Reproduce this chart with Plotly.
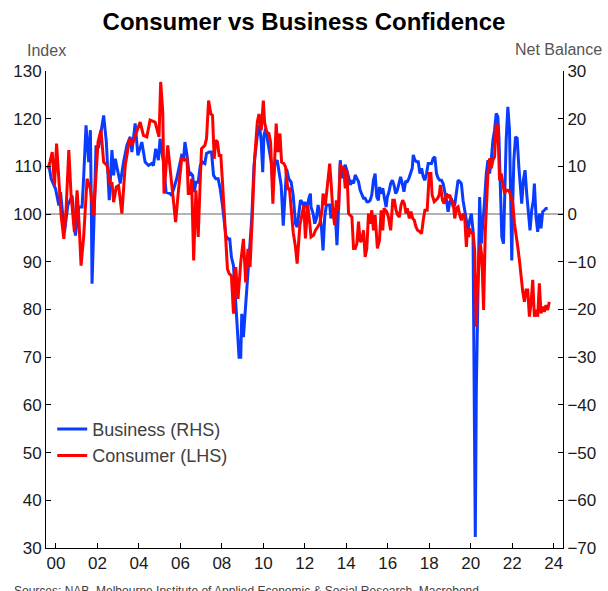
import plotly.graph_objects as go

# ---------------- data ----------------
# Business confidence, NAB net balance (RHS)
biz_x = [1999.66, 1999.77, 1999.98, 2000.14, 2000.22, 2000.33, 2000.41, 2000.57, 2000.78, 2000.86,
         2000.94, 2001.10, 2001.26, 2001.34, 2001.45, 2001.58, 2001.66, 2001.71, 2001.74, 2001.85,
         2001.93, 2002.06, 2002.30, 2002.43, 2002.57, 2002.70, 2002.78, 2002.86, 2003.10, 2003.26,
         2003.42, 2003.58, 2003.66, 2003.82, 2003.95, 2004.14, 2004.30, 2004.46, 2004.62, 2004.70,
         2004.81, 2004.94, 2005.02, 2005.18, 2005.31, 2005.50, 2005.58, 2005.82, 2006.06, 2006.16,
         2006.22, 2006.32, 2006.43, 2006.51, 2006.59, 2006.67, 2006.75, 2006.86, 2006.96, 2007.07,
         2007.18, 2007.26, 2007.39, 2007.50, 2007.60, 2007.71, 2007.82, 2007.92, 2008.03, 2008.19,
         2008.30, 2008.38, 2008.46, 2008.56, 2008.64, 2008.75, 2008.83, 2008.91, 2008.96, 2009.04,
         2009.12, 2009.20, 2009.26, 2009.36, 2009.44, 2009.55, 2009.63, 2009.71, 2009.82, 2009.90,
         2009.97, 2010.03, 2010.11, 2010.19, 2010.30, 2010.38, 2010.46, 2010.56, 2010.67, 2010.77,
         2010.86, 2010.96, 2011.04, 2011.12, 2011.23, 2011.34, 2011.44, 2011.55, 2011.63, 2011.71,
         2011.79, 2011.87, 2011.95, 2012.03, 2012.11, 2012.19, 2012.27, 2012.30, 2012.40, 2012.48,
         2012.56, 2012.64, 2012.72, 2012.80, 2012.88, 2012.96, 2013.04, 2013.10, 2013.20, 2013.26,
         2013.36, 2013.47, 2013.55, 2013.61, 2013.68, 2013.71, 2013.79, 2013.87, 2013.95, 2014.03,
         2014.11, 2014.19, 2014.27, 2014.35, 2014.43, 2014.51, 2014.59, 2014.67, 2014.75, 2014.83,
         2014.91, 2014.99, 2015.07, 2015.15, 2015.23, 2015.31, 2015.39, 2015.47, 2015.55, 2015.60,
         2015.66, 2015.76, 2015.84, 2015.92, 2015.98, 2016.06, 2016.14, 2016.22, 2016.30, 2016.38,
         2016.46, 2016.54, 2016.62, 2016.70, 2016.78, 2016.86, 2016.94, 2017.02, 2017.10, 2017.18,
         2017.23, 2017.31, 2017.39, 2017.47, 2017.55, 2017.63, 2017.71, 2017.79, 2017.87, 2017.95,
         2018.03, 2018.11, 2018.19, 2018.27, 2018.35, 2018.43, 2018.51, 2018.59, 2018.67, 2018.75,
         2018.83, 2018.91, 2018.99, 2019.07, 2019.15, 2019.23, 2019.31, 2019.39, 2019.47, 2019.55,
         2019.63, 2019.71, 2019.79, 2019.87, 2019.95, 2020.03, 2020.11, 2020.22, 2020.27, 2020.35,
         2020.43, 2020.51, 2020.59, 2020.67, 2020.75, 2020.83, 2020.91, 2020.99, 2021.07, 2021.15,
         2021.23, 2021.31, 2021.36, 2021.42, 2021.50, 2021.58, 2021.65, 2021.71, 2021.79, 2021.87,
         2021.92, 2021.98, 2022.03, 2022.08, 2022.16, 2022.24, 2022.32, 2022.40, 2022.46, 2022.54,
         2022.62, 2022.70, 2022.78, 2022.86, 2022.94, 2023.02, 2023.07, 2023.15, 2023.23, 2023.31,
         2023.39, 2023.47, 2023.55, 2023.63, 2023.71]
biz_v = [10.2, 7.4, 5.3, 1.8, 4.6, -1.0, -3.8, 1.8, 3.9, -1.0,
         -4.5, 1.5, 1.5, 8.1, 18.6, 10.9, 17.6, -0.3, -14.6, 1.1,
         14.1, 14.1, 20.7, 15.1, 2.9, 13.4, 8.1, 11.6, 6.4, 10.9,
         14.4, 16.2, 13.0, 19.0, 12.3, 15.1, 10.9, 10.2, 10.6, 10.2,
         13.7, 11.3, 15.8, 10.9, 4.6, 4.3, 3.9, 7.4, 12.3, 12.0,
         15.1, 12.3, 8.1, 8.5, 8.1, 4.6, 6.7, 6.7, 10.2, 10.9,
         10.6, 12.7, 13.0, 13.0, 8.1, 7.4, 7.4, 5.3, 1.8, -4.5,
         -5.2, -5.2, -9.0, -10.8, -16.4, -24.1, -30.0, -30.0, -20.9, -25.8,
         -20.9, -15.0, -11.5, -7.3, -1.0, 10.2, 14.1, 16.5, 18.6, 15.1,
         8.8, 16.5, 17.9, 15.8, 13.7, 10.9, 6.4, 10.6, 11.3, 8.1,
         6.0, -2.4, 3.9, 9.5, 7.4, 6.7, 3.9, -2.0, -2.7, -0.3,
         2.9, 2.5, 1.8, 2.5, 1.1, 3.2, 4.3, 1.5, 0.1, -2.0,
         -0.9, 1.9, 0.1, -2.7, -7.6, -0.6, 1.9, 1.9, 1.9, -0.9,
         1.2, 0.1, -6.5, -0.6, 5.7, 11.3, 7.5, 9.6, 10.3, 9.2,
         7.8, 6.1, 7.1, 6.4, 8.2, 7.5, 6.8, 5.0, 4.3, 3.3,
         3.3, 2.6, 2.6, 2.9, 4.0, 7.1, 8.5, 3.6, 2.9, 5.7,
         4.3, 5.4, 3.3, 1.5, 3.6, 4.7, 6.4, 7.1, 6.1, 4.3,
         5.0, 6.8, 7.8, 6.4, 4.7, 6.8, 6.8, 7.5, 8.5, 9.6,
         12.4, 11.3, 11.0, 11.0, 8.5, 9.6, 7.8, 7.1, 8.5, 10.6,
         10.6, 10.6, 11.7, 12.0, 8.5, 7.5, 7.1, 7.1, 6.4, 4.7,
         2.9, 0.5, 2.6, 3.3, 1.5, 1.9, 4.3, 7.1, 6.8, 6.4,
         2.9, 0.8, -0.6, -3.4, -1.3, 0.1, -3.4, -67.7, -36.9, -15.9,
         3.6, -6.2, -2.0, 2.9, 8.5, 11.3, 8.5, 11.3, 15.5, 17.6,
         21.1, 20.4, 16.2, 7.8, -4.8, -6.2, 5.0, 15.5, 22.5, 17.6,
         5.0, -9.7, 2.9, 11.3, 16.2, 15.9, 9.9, 5.7, 2.2, 7.1,
         9.2, 4.3, 0.8, -3.4, 0.8, 2.9, 6.4, -0.6, -3.7, 0.1,
         -3.0, 0.5, 0.8, 1.2, 1.2]

# Consumer sentiment, Westpac-Melbourne Institute index (LHS)
con_x = [1999.61, 1999.71, 1999.82, 1999.93, 2000.03, 2000.14, 2000.25, 2000.38, 2000.49, 2000.62,
         2000.73, 2000.89, 2001.02, 2001.12, 2001.21, 2001.34, 2001.50, 2001.66, 2001.82, 2001.93,
         2002.03, 2002.17, 2002.30, 2002.46, 2002.62, 2002.70, 2002.78, 2002.91, 2003.02, 2003.18,
         2003.34, 2003.42, 2003.55, 2003.66, 2003.82, 2004.06, 2004.22, 2004.38, 2004.54, 2004.78,
         2004.97, 2005.05, 2005.15, 2005.21, 2005.39, 2005.53, 2005.66, 2005.77, 2005.90, 2006.06,
         2006.19, 2006.32, 2006.38, 2006.48, 2006.54, 2006.64, 2006.75, 2006.86, 2006.96, 2007.02,
         2007.18, 2007.26, 2007.36, 2007.47, 2007.55, 2007.63, 2007.71, 2007.79, 2007.87, 2007.95,
         2008.03, 2008.11, 2008.19, 2008.27, 2008.35, 2008.46, 2008.56, 2008.67, 2008.78, 2008.91,
         2009.04, 2009.15, 2009.26, 2009.36, 2009.47, 2009.58, 2009.71, 2009.79, 2009.90, 2010.00,
         2010.06, 2010.16, 2010.27, 2010.35, 2010.46, 2010.56, 2010.62, 2010.70, 2010.80, 2010.88,
         2010.99, 2011.07, 2011.18, 2011.26, 2011.34, 2011.44, 2011.55, 2011.63, 2011.76, 2011.87,
         2011.95, 2012.03, 2012.14, 2012.24, 2012.30, 2012.43, 2012.51, 2012.62, 2012.72, 2012.83,
         2012.88, 2012.99, 2013.10, 2013.20, 2013.28, 2013.36, 2013.44, 2013.52, 2013.63, 2013.71,
         2013.79, 2013.87, 2013.95, 2014.03, 2014.11, 2014.19, 2014.27, 2014.35, 2014.43, 2014.51,
         2014.59, 2014.67, 2014.75, 2014.83, 2014.91, 2014.99, 2015.07, 2015.15, 2015.23, 2015.31,
         2015.39, 2015.50, 2015.60, 2015.68, 2015.76, 2015.82, 2015.95, 2016.03, 2016.14, 2016.24,
         2016.32, 2016.40, 2016.48, 2016.56, 2016.64, 2016.72, 2016.80, 2016.88, 2016.94, 2017.04,
         2017.12, 2017.20, 2017.28, 2017.36, 2017.44, 2017.55, 2017.63, 2017.71, 2017.79, 2017.90,
         2018.00, 2018.08, 2018.14, 2018.24, 2018.32, 2018.40, 2018.48, 2018.54, 2018.64, 2018.72,
         2018.83, 2018.91, 2018.99, 2019.07, 2019.15, 2019.23, 2019.31, 2019.39, 2019.47, 2019.55,
         2019.63, 2019.71, 2019.79, 2019.84, 2019.90, 2019.95, 2020.03, 2020.11, 2020.19, 2020.27,
         2020.32, 2020.40, 2020.46, 2020.54, 2020.62, 2020.70, 2020.77, 2020.83, 2020.91, 2020.99,
         2021.07, 2021.15, 2021.23, 2021.31, 2021.39, 2021.47, 2021.55, 2021.63, 2021.71, 2021.79,
         2021.87, 2021.95, 2022.03, 2022.11, 2022.19, 2022.27, 2022.35, 2022.43, 2022.51, 2022.59,
         2022.67, 2022.75, 2022.83, 2022.91, 2022.99, 2023.07, 2023.15, 2023.23, 2023.31, 2023.39,
         2023.47, 2023.55, 2023.63, 2023.71, 2023.79]
con_v = [109.5, 110.9, 113.0, 106.0, 114.8, 106.0, 99.7, 94.8, 101.1, 113.4,
         103.9, 96.2, 105.0, 97.6, 89.2, 95.5, 107.4, 105.3, 99.7, 108.1,
         115.1, 117.6, 110.9, 110.2, 106.0, 106.7, 102.5, 105.7, 106.0, 100.1,
         110.2, 112.3, 115.8, 114.4, 116.2, 119.3, 116.5, 116.2, 119.7, 119.3,
         116.2, 127.7, 121.4, 104.3, 114.4, 108.1, 102.5, 98.3, 104.6, 111.6,
         111.3, 111.6, 104.3, 104.3, 107.4, 90.3, 105.0, 95.2, 107.4, 113.7,
         114.4, 115.8, 123.8, 121.0, 120.7, 111.6, 115.5, 115.1, 112.3, 112.3,
         106.7, 100.4, 94.8, 88.5, 87.5, 87.1, 79.1, 88.9, 82.2, 89.9,
         94.8, 85.7, 92.7, 88.9, 99.7, 111.6, 119.3, 121.0, 117.6, 123.8,
         119.3, 117.2, 116.9, 115.1, 102.2, 111.3, 119.0, 113.0, 116.9, 110.9,
         110.6, 109.9, 105.3, 105.3, 101.1, 96.2, 93.1, 89.6, 97.6, 99.7,
         101.8, 94.9, 101.9, 98.0, 95.2, 95.6, 96.6, 97.3, 98.0, 100.8,
         104.3, 101.9, 107.1, 110.6, 105.7, 100.1, 97.7, 102.9, 100.8, 110.6,
         109.2, 109.9, 105.4, 109.2, 100.1, 99.8, 99.4, 92.8, 92.8, 93.8,
         98.4, 94.2, 94.5, 96.6, 91.0, 92.8, 100.1, 98.0, 100.8, 96.6,
         99.8, 92.8, 94.5, 100.8, 96.6, 101.2, 100.5, 99.4, 96.6, 102.9,
         102.9, 100.8, 99.8, 99.4, 101.9, 102.9, 102.2, 100.1, 101.2, 99.1,
         100.5, 99.1, 98.7, 97.3, 96.6, 96.3, 95.9, 98.7, 100.8, 100.8,
         108.5, 108.5, 104.0, 102.6, 102.9, 103.3, 104.0, 106.1, 102.9, 102.2,
         104.3, 103.6, 104.0, 102.9, 102.6, 99.1, 101.2, 101.5, 99.8, 98.7,
         100.1, 99.4, 93.1, 96.6, 95.2, 97.0, 95.9, 96.3, 92.4, 76.4,
         84.1, 89.7, 93.8, 91.0, 79.9, 95.9, 105.0, 108.5, 111.7, 109.6,
         111.3, 112.0, 119.0, 118.3, 107.1, 108.5, 106.4, 104.3, 105.0, 105.0,
         104.7, 103.6, 102.2, 98.0, 95.9, 93.1, 90.3, 86.2, 83.7, 81.6,
         84.1, 84.1, 78.5, 81.3, 86.2, 78.5, 79.9, 78.5, 85.5, 79.2,
         80.6, 79.5, 80.9, 79.9, 81.6]

year_ticks = [2000, 2002, 2004, 2006, 2008, 2010, 2012, 2014, 2016, 2018, 2020, 2022, 2024]
year_labels = ["00", "02", "04", "06", "08", "10", "12", "14", "16", "18", "20", "22", "24"]
lhs_ticks = [30, 40, 50, 60, 70, 80, 90, 100, 110, 120, 130]
rhs_ticks = [-70, -60, -50, -40, -30, -20, -10, 0, 10, 20, 30]

# ---------------- figure ----------------
FONT = "Liberation Sans, Arial, sans-serif"
TICKC = "#1a1a1a"

fig = go.Figure()
fig.add_trace(go.Scatter(x=biz_x, y=biz_v, name="Business (RHS)", mode="lines",
                         line=dict(color="#0a3cff", width=3), yaxis="y"))
fig.add_trace(go.Scatter(x=con_x, y=con_v, name="Consumer (LHS)", mode="lines",
                         line=dict(color="#ff0000", width=3), yaxis="y2"))

axis_common = dict(showgrid=False, zeroline=False, showline=True, linecolor="#000000",
                   linewidth=1, ticks="inside", ticklen=5, tickcolor="#000000",
                   tickfont=dict(family=FONT, size=17, color=TICKC))

fig.update_layout(
    width=608, height=591,
    margin=dict(l=46, r=42, t=71, b=43),
    paper_bgcolor="white", plot_bgcolor="white",
    font=dict(family=FONT),
    title=dict(text="<b>Consumer vs Business Confidence</b>", x=0.5, xanchor="center",
               y=1 - 22 / 591, yref="container", yanchor="middle",
               font=dict(family=FONT, size=24, color="#000000")),
    xaxis=dict(range=[1999.52, 2024.45], tickmode="array", tickvals=year_ticks,
               ticktext=year_labels, **axis_common),
    yaxis=dict(range=[-70, 30], side="right", tickmode="array", tickvals=rhs_ticks, **axis_common),
    yaxis2=dict(range=[30, 130], side="left", overlaying="y", tickmode="array",
                tickvals=lhs_ticks, **axis_common),
    showlegend=True,
    legend=dict(x=0.012, y=0.2876, xanchor="left", yanchor="top", bgcolor="rgba(0,0,0,0)",
                font=dict(family=FONT, size=18, color="#404040"), tracegroupgap=0),
    shapes=[dict(type="line", xref="paper", x0=0, x1=1, yref="y", y0=0, y1=0,
                 line=dict(color="#b3b3b3", width=2), layer="below")],
    annotations=[
        dict(text="Index", xref="paper", yref="paper", x=0.0, y=(548 - 51) / 477,
             xanchor="center", yanchor="middle", showarrow=False,
             font=dict(family=FONT, size=16, color="#555555")),
        dict(text="Net Balance", xref="paper", yref="paper", x=(607 - 46) / 520,
             y=(548 - 49) / 477, xanchor="right", yanchor="middle", showarrow=False,
             font=dict(family=FONT, size=16, color="#555555")),
        dict(text="Sources: NAB, Melbourne Institute of Applied Economic & Social Research, Macrobond",
             xref="paper", yref="paper", x=(12 - 46) / 520, y=(548 - 591) / 477,
             xanchor="left", yanchor="middle", showarrow=False,
             font=dict(family=FONT, size=12, color="#404040")),
    ],
)

fig.write_html("out.html", config={"displayModeBar": False},
               post_script="document.body.style.margin='0';")
